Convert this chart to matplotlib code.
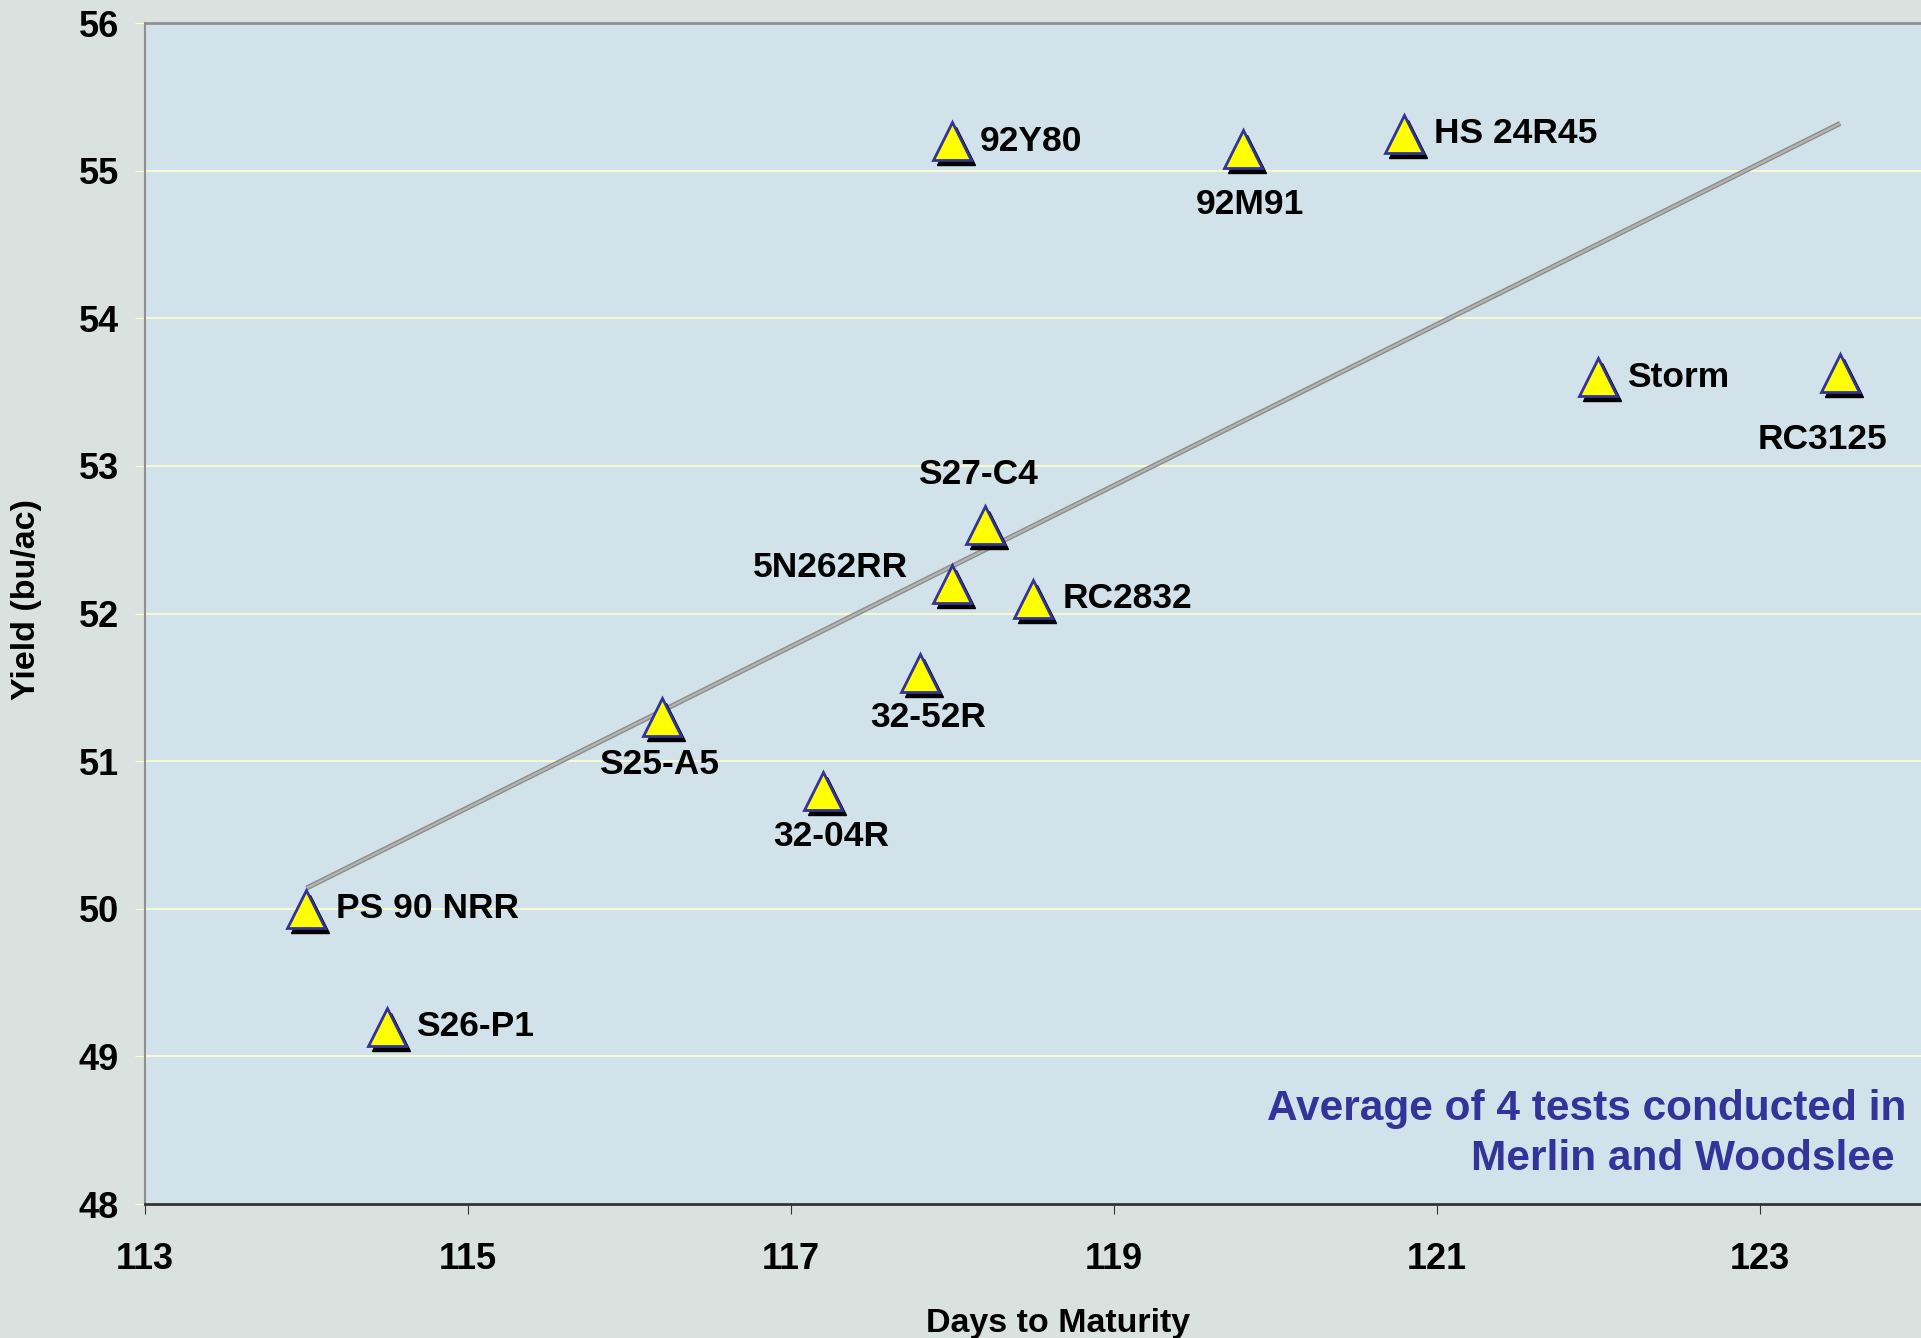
import numpy as np
import matplotlib
matplotlib.use("Agg")
import matplotlib.pyplot as plt
from matplotlib.transforms import ScaledTranslation

plt.rcParams['font.family'] = ['Liberation Sans', 'DejaVu Sans']
plt.rcParams['font.weight'] = 'bold'

# variety data: days to maturity vs yield
names = ['PS 90 NRR', 'S26-P1', 'S25-A5', '32-04R', '32-52R', '5N262RR', 'S27-C4',
         'RC2832', '92Y80', '92M91', 'HS 24R45', 'Storm', 'RC3125']
days = [114.0, 114.5, 116.2, 117.2, 117.8, 118.0, 118.2, 118.5, 118.0, 119.8, 120.8, 122.0, 123.5]
yields = [50.0, 49.2, 51.3, 50.8, 51.6, 52.2, 52.6, 52.1, 55.2, 55.15, 55.25, 53.6, 53.63]

xticks = [113, 115, 117, 119, 121, 123]
yticks = [48, 49, 50, 51, 52, 53, 54, 55, 56]

# label offsets (points) and alignment for each point
label_pos = {
    'PS 90 NRR': ((21, 0), 'left'),
    'S26-P1': ((21, 0), 'left'),
    'S25-A5': ((-2, -34), 'center'),
    '32-04R': ((6, -33), 'center'),
    '32-52R': ((6, -32), 'center'),
    '5N262RR': ((-32, 12), 'right'),
    'S27-C4': ((-5, 36), 'center'),
    'RC2832': ((21, 0), 'left'),
    '92Y80': ((20, 0), 'left'),
    '92M91': ((5, -40), 'center'),
    'HS 24R45': ((21, 0), 'left'),
    'Storm': ((21, 0), 'left'),
    'RC3125': ((-13, -48), 'center'),
}

fig = plt.figure(figsize=(19.21, 13.38), dpi=100, facecolor='#d9e2df')
ax = fig.add_axes([0.0755, 0.1001, 0.9245, 0.8827])
ax.set_facecolor('#d2e2ea')

ax.set_xlim(113, 124)
ax.set_ylim(48, 56)
ax.set_xticks(xticks)
ax.set_yticks(yticks)
ax.grid(axis='y', color='#ffffcc', linewidth=1.2)
ax.set_axisbelow(True)

ax.tick_params(axis='y', length=7, color='#ffffcc', labelsize=26, pad=12)
ax.tick_params(axis='x', length=7, color='#333333', labelsize=26, pad=20)
for lab in ax.get_xticklabels() + ax.get_yticklabels():
    lab.set_fontweight('bold')

ax.spines['right'].set_visible(False)
ax.spines['left'].set_color('#909090')
ax.spines['top'].set_color('#909090')
ax.spines['bottom'].set_color('#333333')
ax.spines['left'].set_linewidth(1.5)
ax.spines['top'].set_linewidth(2)
ax.spines['bottom'].set_linewidth(2)

ax.set_xlabel('Days to Maturity', fontsize=24.5, fontweight='bold')
ax.set_ylabel('Yield (bu/ac)', fontsize=24.5, fontweight='bold')
ax.xaxis.set_label_coords(0.514, -0.088)
ax.yaxis.set_label_coords(-0.058, 0.512)

# linear trend line
xs = np.array(days)
ys = np.array(yields)
m, b = np.polyfit(xs, ys, 1)
tx = np.array([xs.min(), xs.max()])
ax.plot(tx, m * tx + b, color='#8c8c8c', linewidth=3.6, zorder=2, solid_capstyle='butt')
ax.plot(tx, m * tx + b, color='#b4b4b4', linewidth=1.6, zorder=2, solid_capstyle='butt')

# markers with drop shadow
shadow = ax.transData + ScaledTranslation(4 / 100, -5 / 100, fig.dpi_scale_trans)
ax.plot(days, yields, linestyle='none', marker='^', markersize=27.5,
        markerfacecolor='black', markeredgecolor='black', transform=shadow, zorder=3)
ax.plot(days, yields, linestyle='none', marker='^', markersize=27.5,
        markerfacecolor='#ffff00', markeredgecolor='#333399', markeredgewidth=2, zorder=4)

for n, x, y in zip(names, days, yields):
    off, ha = label_pos[n]
    ax.annotate(n, (x, y), xytext=off, textcoords='offset points', ha=ha, va='center',
                fontsize=25.5, fontweight='bold', color='black', zorder=5)

ax.text(0.9916, 0.059, 'Average of 4 tests conducted in\nMerlin and Woodslee ',
        transform=ax.transAxes, ha='right', va='center', multialignment='right',
        fontsize=30.5, fontweight='bold', color='#333399', linespacing=1.32)

fig.savefig('out.png', dpi=100, facecolor=fig.get_facecolor())
